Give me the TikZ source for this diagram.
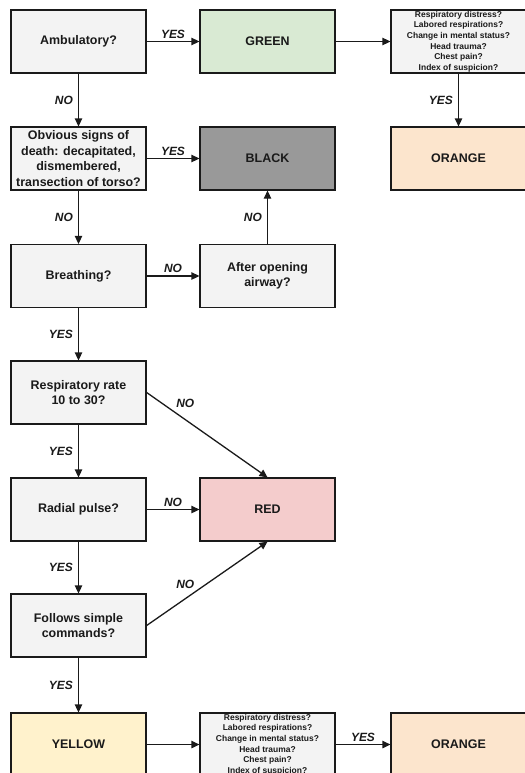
\documentclass[tikz,border=0pt]{standalone}
\usepackage{fontspec}
\setmainfont{Liberation Sans}
\usetikzlibrary{arrows.meta}

\definecolor{qgray}{HTML}{F3F3F3}
\definecolor{tgreen}{HTML}{D9EAD3}
\definecolor{tblack}{HTML}{999999}
\definecolor{torange}{HTML}{FCE5CD}
\definecolor{tred}{HTML}{F4CCCC}
\definecolor{tyellow}{HTML}{FFF2CC}
\definecolor{inkc}{HTML}{1A1A1A}

\tikzset{
  box/.style={draw=inkc, line width=1.3bp, fill=qgray, minimum width=135bp,
    minimum height=63bp, inner sep=0pt, align=center, text=inkc,
    font=\fontsize{12.5}{15.5}\selectfont\bfseries},
  smallbox/.style={box, font=\fontsize{8.5}{10.7}\selectfont\bfseries},
  conn/.style={draw=inkc, line width=1.3bp, -{Triangle[length=8bp,width=7.5bp]}},
  lbl/.style={font=\fontsize{12}{14}\selectfont\bfseries\itshape, text=inkc, inner sep=1bp},
}

\begin{document}
\begin{tikzpicture}[x=1bp, y=-1bp]
  \useasboundingbox (0,0) rectangle (525,773);
  \clip (0,0) rectangle (525,773);

  % left column: the questions
  \node[box] (amb)     at (78.5,41.5)  {Ambulatory?};
  \node[box] (death)   at (78.5,158.5) {Obvious signs of\\death: decapitated,\\dismembered,\\transection of torso?};
  \node[box] (breath)  at (78.5,276)   {Breathing?};
  \node[box] (rate)    at (78.5,392.5) {Respiratory rate\\10 to 30?};
  \node[box] (pulse)   at (78.5,509.5) {Radial pulse?};
  \node[box] (follows) at (78.5,625.5) {Follows simple\\commands?};
  \node[box, fill=tyellow] (yellow) at (78.5,744.5) {YELLOW};

  % middle column
  \node[box, fill=tgreen] (green)  at (267.5,41.5)  {GREEN};
  \node[box, fill=tblack] (black)  at (267.5,158.5) {BLACK};
  \node[box] (airway) at (267.5,276) {After opening\\airway?};
  \node[box, fill=tred]   (red)    at (267.5,509.5) {RED};
  \node[smallbox] (chk2) at (267.5,744.5)
    {Respiratory distress?\\Labored respirations?\\Change in mental status?\\Head trauma?\\Chest pain?\\Index of suspicion?};

  % right column
  \node[smallbox] (chk1) at (458.5,41.5)
    {Respiratory distress?\\Labored respirations?\\Change in mental status?\\Head trauma?\\Chest pain?\\Index of suspicion?};
  \node[box, fill=torange] (orange1) at (458.5,158.5) {ORANGE};
  \node[box, fill=torange] (orange2) at (458.5,744.5) {ORANGE};

  % connectors
  \draw[conn] (amb) -- node[lbl, midway, above=1.5bp] {YES} (green);
  \draw[conn] (green) -- (chk1);
  \draw[conn] (chk1) -- node[lbl, midway, left=4bp] {YES} (orange1);
  \draw[conn] (amb) -- node[lbl, midway, left=4bp] {NO} (death);
  \draw[conn] (death) -- node[lbl, midway, above=1.5bp] {YES} (black);
  \draw[conn] (death) -- node[lbl, midway, left=4bp] {NO} (breath);
  \draw[conn] (breath) -- node[lbl, midway, above=1.5bp] {NO} (airway);
  \draw[conn] (airway) -- node[lbl, midway, left=4bp] {NO} (black);
  \draw[conn] (breath) -- node[lbl, midway, left=4bp] {YES} (rate);
  \draw[conn] (rate.east) -- node[lbl, pos=0.32, yshift=16bp] {NO} (red.north);
  \draw[conn] (rate) -- node[lbl, midway, left=4bp] {YES} (pulse);
  \draw[conn] (pulse) -- node[lbl, midway, above=1.5bp] {NO} (red);
  \draw[conn] (pulse) -- node[lbl, midway, left=4bp] {YES} (follows);
  \draw[conn] (follows.east) -- node[lbl, pos=0.32, yshift=14bp] {NO} (red.south);
  \draw[conn] (follows) -- node[lbl, midway, left=4bp] {YES} (yellow);
  \draw[conn] (yellow) -- (chk2);
  \draw[conn] (chk2) -- node[lbl, midway, above=1.5bp] {YES} (orange2);
\end{tikzpicture}
\end{document}
